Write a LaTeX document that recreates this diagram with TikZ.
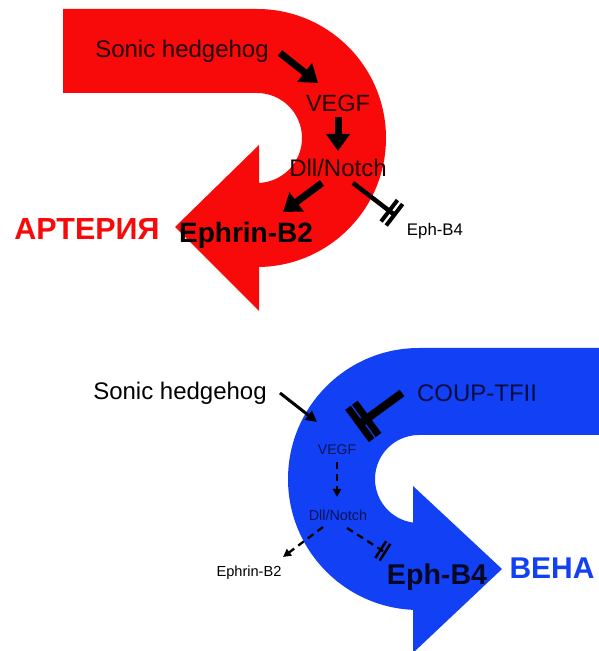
\documentclass[tikz,border=0pt]{standalone}
\usepackage{fontspec}
\setmainfont{Liberation Sans}
\usetikzlibrary{arrows.meta,calc}
\definecolor{artred}{RGB}{248,10,10}
\definecolor{venblue}{RGB}{18,64,245}
\definecolor{onred}{RGB}{35,0,0}
\definecolor{onblue}{RGB}{10,12,60}
\definecolor{navy}{RGB}{12,18,80}
\begin{document}
\begin{tikzpicture}[x=1pt,y=1pt,
  txt/.style={inner sep=0pt, anchor=center},
  fs/.style={font=\fontsize{#1}{#1}\selectfont},
  fsb/.style={font=\fontsize{#1}{#1}\selectfont\bfseries},
  bigarrow/.style={line width=7pt, -{Triangle[length=17pt,width=23pt]}},
  inhred/.style={line width=4.5pt, -{Bar[width=27pt,line width=4pt,sep=2.5pt]Bar[width=27pt,line width=4pt]}},
  inhblue/.style={line width=8pt, -{Bar[width=40pt,line width=7pt,sep=1.5pt]Bar[width=40pt,line width=7pt]}},
  thinarrow/.style={line width=3pt, -{Triangle[length=11pt,width=11pt]}},
  dasharrow/.style={line width=2.3pt, dash pattern=on 7pt off 5pt, -{Triangle[length=8pt,width=8pt]}},
  dashinh/.style={line width=2.3pt, dash pattern=on 7pt off 5pt, -{Bar[width=20pt,line width=2.5pt,sep=2.5pt]Bar[width=20pt,line width=2.5pt]}}
]
\useasboundingbox (0,0) rectangle (599,651);
\fill[white] (0,0) rectangle (599,651);

% red U-arrow (artery)
\fill[artred] (63,642) -- (257,642) arc[start angle=90,end angle=-90,radius=129]
  -- (259,384) -- (259,340) -- (175,424) -- (259,506) -- (259,468) -- (257,468)
  arc[start angle=-90,end angle=90,radius=45] -- (63,558) -- cycle;

% blue U-arrow (vein)
\fill[venblue] (599,303) -- (419,303) arc[start angle=90,end angle=270,radius=131]
  -- (413,41) -- (413,0) -- (415,0) -- (502,82) -- (413,165) -- (413,128) -- (419,128)
  arc[start angle=270,end angle=90,radius=44] -- (599,216) -- cycle;

% red texts
\node[txt, fs=24, text=onred] (shhR) at (182,600) {Sonic hedgehog};
\node[txt, fs=23.5, text=onred] (vegfR) at (338,548) {VEGF};
\node[txt, fs=24, text=onred] (dllR) at (338,483) {Dll/Notch};
\node[txt, fsb=28, text=black] (ephrR) at (246,416) {Ephrin-B2};
\node[txt, fsb=30.5, text=artred] (arteria) at (87,422) {АРТЕРИЯ};
\node[txt, fs=16.8, text=black] (ephB4R) at (435,420) {Eph-B4};

\draw[bigarrow] ($(shhR.center)+(98,-2)$) -- ($(vegfR.center)+(-20,20)$);
\draw[bigarrow] ($(vegfR.center)+(0,-14)$) -- ($(dllR.center)+(0,17)$);
\draw[bigarrow] ($(dllR.center)+(-16,-15)$) -- ($(ephrR.center)+(37,23)$);
\draw[inhred] ($(dllR.center)+(15,-15)$) -- ($(ephB4R.center)+(-39,15)$);

% blue texts
\node[txt, fs=24, text=black] (shhB) at (180,258) {Sonic hedgehog};
\node[txt, fs=24, text=onblue] (coup) at (477,258) {COUP-TFII};
\node[txt, fs=14, text=navy] (vegfB) at (337,201) {VEGF};
\node[txt, fs=14.4, text=navy] (dllB) at (338,136) {Dll/Notch};
\node[txt, fs=14.6, text=black] (ephrB) at (249,78) {Ephrin-B2};
\node[txt, fsb=28.6, text=onblue!60!black] (ephB4B) at (437,74) {Eph-B4};
\node[txt, fsb=30, text=venblue] (vena) at (552,83) {ВЕНА};

\draw[thinarrow] ($(shhB.center)+(100,0)$) -- ($(vegfB.center)+(-20,28)$);
\draw[inhblue] ($(coup.center)+(-75,0)$) -- ($(vegfB.center)+(20,24)$);
\draw[dasharrow] ($(vegfB.center)+(0,-12)$) -- ($(dllB.center)+(-1,18)$);
\draw[dasharrow] ($(dllB.center)+(-15,-12)$) -- ($(ephrB.center)+(34,16)$);
\draw[dashinh] ($(dllB.center)+(9,-13)$) -- ($(ephB4B.center)+(-51,24)$);
\end{tikzpicture}
\end{document}
